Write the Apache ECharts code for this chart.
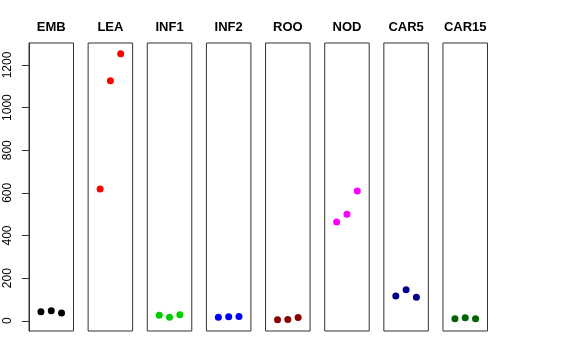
<!DOCTYPE html>
<html><head><meta charset="utf-8">
<script src="https://cdn.jsdelivr.net/npm/echarts@6/dist/echarts.min.js"></script>
<style>html,body{margin:0;padding:0;background:#fff}#c{width:576px;height:360px}</style>
</head><body><div id="c"></div>
<script>
var panels = ["EMB","LEA","INF1","INF2","ROO","NOD","CAR5","CAR15"];
var colors = ["#000000","#FF0000","#00CD00","#0000FF","#8B0000","#FF00FF","#00008B","#006400"];
var xPos = [1, 2, 3];
var EMB = [42, 47, 36];
var LEA = [618, 1126, 1253];
var INF1 = [26, 17, 28];
var INF2 = [16, 19, 20];
var ROO = [5, 6, 15];
var NOD = [463, 500, 609];
var CAR5 = [116, 146, 110];
var CAR15 = [9, 14, 9];
var yTicks = [0, 200, 400, 600, 800, 1000, 1200];
var values = [EMB, LEA, INF1, INF2, ROO, NOD, CAR5, CAR15];

var chart = echarts.init(document.getElementById('c'), null, {renderer:'canvas'});
var grids = [], xAxes = [], yAxes = [], series = [], titles = [];
var font = '"Liberation Sans", Arial, sans-serif';
var gLeft0 = 29;
for (var i = 0; i < panels.length; i++) {
  var left = gLeft0 + i * 59.14;
  grids.push({left: left, top: 43, width: 44.5, height: 288, show: true, borderColor: '#333', borderWidth: 1, backgroundColor: 'transparent'});
  xAxes.push({type: 'value', gridIndex: i, min: -0.16, max: 4.16, show: false});
  yAxes.push({
    type: 'value', gridIndex: i, min: -48, max: 1303,
    show: i === 0,
    axisLine: {show: true, onZero: false, lineStyle: {color: '#333'}},
    axisTick: {show: true, length: 7, lineStyle: {color: '#333', width: 1}, customValues: yTicks},
    axisLabel: {show: true, rotate: 90, margin: 15, fontSize: 12, color: '#000', fontFamily: font, customValues: yTicks,
      formatter: function (v) { return String(v); }},
    splitLine: {show: false}
  });
  series.push({
    type: 'scatter', xAxisIndex: i, yAxisIndex: i,
    data: xPos.map(function (x, k) { return [x, values[i][k]]; }),
    symbolSize: 7, itemStyle: {color: colors[i], opacity: 1},
    emphasis: {disabled: true}, silent: true
  });
  titles.push({
    text: panels[i], left: left + 22.25, top: 21, textAlign: 'center', padding: 0,
    textStyle: {fontSize: 13, fontWeight: 'bold', color: '#000', fontFamily: font}
  });
}
chart.setOption({
  animation: false,
  backgroundColor: '#fff',
  title: titles,
  grid: grids,
  xAxis: xAxes,
  yAxis: yAxes,
  series: series
});
</script></body></html>
